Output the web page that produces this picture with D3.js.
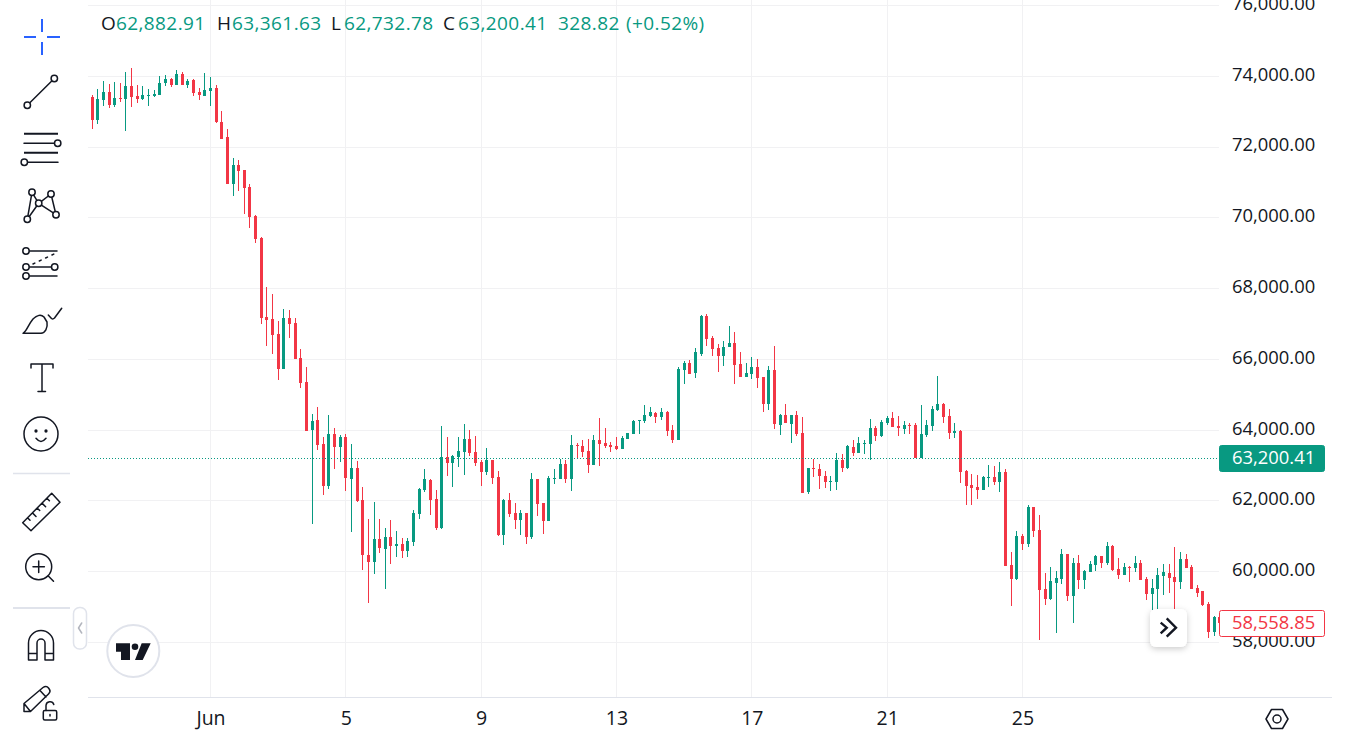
<!DOCTYPE html>
<html>
<head>
<meta charset="utf-8">
<script src="https://cdn.jsdelivr.net/npm/d3@7"></script>
<style>
  html, body { margin: 0; background: #fff; overflow: hidden; }
  svg { display: block; }
  text { font-family: "Open Sans", sans-serif; font-weight: 500; }
</style>
</head>
<body>
<svg id="chart" width="1346" height="748"></svg>
<script>
// 4-hour BTC/USD candles, 28 May 12:00 onward
const opens = [
73415,72765,73331,73557,73189,73387,73359,73726,73444,73359,
73444,73444,73472,73811,73924,73754,74065,73754,73896,73557,
73444,73585,73670,72709,72285,70957,71494,71352,70872,70052,
69431,67198,67141,66718,65728,67170,67028,66039,65361,64005,
64287,63609,62422,63892,63524,63807,62620,62931,62026,60472,
60274,60924,60642,60981,60726,60783,60585,60839,61631,62309,
62592,62055,61235,63242,63072,63242,63383,63750,63383,63100,
62817,63156,62676,61037,62026,61659,61461,61659,60980,62619,
61941,61432,62619,62619,63043,62619,63580,63552,63411,63015,
63722,63637,63580,63552,63467,63750,63891,64258,64258,64400,
64485,64372,64513,64004,63722,65700,65898,65615,66152,67226,
66604,66322,66095,66350,66463,65869,65502,65587,65785,65502,
64739,65700,64145,64428,64174,64428,63919,62252,62930,62902,
62704,62535,62535,63156,62930,63524,63354,63608,63609,64061,
63835,64202,64344,64117,64033,64146,64146,63213,63863,64117,
64570,64739,64400,63920,63976,62846,62450,62394,62309,62648,
62676,62535,62817,60189,59794,61009,60783,61828,61179,59511,
59229,59681,59794,60500,59313,60246,59766,59992,60189,60444,
60246,60726,60076,59907,60142,60105,60246,59794,59370,59511,
59879,59963,59850,59709,60359,60133,59540,59455,59087,58296,
58720];
const highs = [
73472,73641,73868,73783,73839,73811,74122,74235,73754,73726,
73641,73613,74009,74037,73952,74178,74122,73924,73924,73670,
74094,73981,73754,73020,72511,71691,71635,71352,70957,70081,
69459,68046,67848,67085,67424,67396,67170,66294,65785,64457,
64655,63807,64428,64061,63863,63892,63609,63129,62394,61489,
61970,61489,61235,61461,61150,60953,60953,61744,62365,62902,
62620,62309,64118,63807,63298,63807,64174,64005,63835,63157,
63495,63156,62846,62054,62224,61941,61743,61659,62789,62619,
61941,62704,62902,63185,63156,63863,63637,63722,63750,63863,
64343,64061,63665,63806,63835,63919,64287,64287,64711,64654,
64513,64626,64541,64145,65785,65954,65982,66322,67254,67282,
66661,66435,66519,66943,66774,66208,65898,66067,66011,65502,
65813,66378,64456,64739,64428,64541,64372,62930,63185,63043,
62846,62704,63354,63326,63580,63722,63806,63722,64315,64117,
64287,64400,64513,64400,64259,64202,64202,64711,64287,64683,
65530,64767,64598,64202,64004,62874,62761,62733,62704,63015,
62987,63100,62902,60557,61150,61065,61885,61828,61602,59963,
60133,60020,60642,60500,60387,60472,60048,60302,60472,60444,
60839,60755,60387,60246,60161,60453,60331,59850,59794,60105,
60218,60218,60698,60557,60500,60189,59624,59455,59144,58748,
58748];
const lows = [
72511,72652,73161,73105,73133,73274,72455,73133,73246,73331,
73161,73415,73472,73726,73698,73754,73754,73670,73444,73331,
73444,73161,72681,72228,70957,70618,70759,70109,69713,69289,
67000,66378,66152,65418,65728,66604,66011,65192,63976,61348,
63439,62168,62337,62902,63100,62281,61122,61970,60048,59116,
59935,60529,59511,60218,60416,60387,60416,60726,61489,62252,
61602,61179,61207,62705,62394,62959,62733,63270,62987,62422,
62732,62478,61009,60754,61546,61206,61037,60783,60924,61574,
61065,61432,62478,62619,62506,62280,63185,63241,62789,63015,
62987,63495,63382,63439,63467,63750,63891,63891,64202,64372,
64202,64287,63835,63637,63722,65304,65587,65474,66095,66378,
66095,65643,65813,66350,65304,65502,65502,65445,65191,64513,
64569,64032,63863,64202,63637,63835,62224,62196,62676,62337,
62365,62280,62309,62817,62902,63269,63354,63326,63157,63693,
63807,64146,64089,63835,63891,63891,63213,63213,63807,63976,
64541,64202,63750,63778,62507,61885,61885,62054,62309,62394,
62450,62252,60161,59031,59765,60613,60698,60981,58070,59059,
59200,58268,59653,59172,58550,59511,59511,59992,60020,60105,
60189,60020,59794,59907,59709,59992,59766,59200,58918,58946,
59342,59389,58918,59511,60105,59511,59285,59031,58127,58183,
58500];
const closes = [
72765,73359,73557,73189,73387,73359,73726,73415,73359,73472,
73472,73500,73811,73924,73754,74065,73754,73868,73528,73472,
73613,73670,72709,72228,70957,71494,71324,70844,70024,69402,
67170,67113,66689,65728,67170,67000,66011,65333,63976,64259,
63581,62422,63892,63524,63807,62648,62931,61998,60472,60274,
60924,60670,60981,60726,60783,60585,60868,61659,62337,62620,
62026,61235,63242,63072,63270,63411,63750,63355,63072,62818,
63156,62648,61037,62026,61630,61461,61659,60980,62619,61913,
61432,62648,62648,63043,62619,63580,63552,63382,63015,63722,
63608,63552,63524,63467,63778,63919,64258,64287,64428,64513,
64372,64513,63976,63722,65728,65898,65587,66208,67226,66576,
66293,66095,66350,66463,65841,65502,65615,65785,65474,64739,
65700,64174,64428,64202,64428,63891,62224,62930,62902,62704,
62535,62563,63156,62930,63552,63354,63637,63637,64061,63835,
64230,64344,64089,64061,64146,64117,63213,63891,64146,64598,
64739,64372,63920,63976,62817,62422,62365,62309,62676,62676,
62535,62817,60161,59794,61009,60783,61828,61150,59483,59229,
59737,59822,60500,59313,60246,59766,60020,60218,60444,60246,
60726,60048,59907,60133,60114,60246,59766,59370,59540,59907,
59992,59822,59709,60359,60105,59511,59398,59059,58296,58720,
58558.85];

const priceTicks = [76000,74000,72000,70000,68000,66000,64000,62000,60000,58000];
const dayTicks = ["2024-06-01","2024-06-05","2024-06-09","2024-06-13","2024-06-17","2024-06-21","2024-06-25"];
const legendOpen = 62882.91, legendHigh = 63361.63, legendLow = 62732.78, legendClose = 63200.41;
const legendChange = 328.82, legendPercent = 0.52;
const lastPrice = 58558.85;

const UP = "#089981", DOWN = "#F23645", INK = "#131722", RULE = "#e0e3eb", GRID = "#f1f1f3";
const paneLeft = 88, paneRight = 1219, paneBottom = 697;

const firstBar = Date.UTC(2024, 4, 28, 12);
const barTime = i => new Date(firstBar + i * 4 * 3600 * 1000);
const parseDay = d3.utcParse("%Y-%m-%d");

const x = d3.scaleUtc()
  .domain([parseDay(dayTicks[0]), parseDay(dayTicks[dayTicks.length - 1])])
  .range([210.5, 1022.5]);
const y = d3.scaleLinear().domain([58000, 74000]).range([642.5, 76.3]);
const crisp = v => Math.floor(v) + 0.5;

const svg = d3.select("#chart");

// Grid
const grid = svg.append("g").attr("stroke", GRID).attr("stroke-width", 1);
grid.selectAll(".h").data(priceTicks).join("line")
  .attr("x1", paneLeft).attr("x2", paneRight)
  .attr("y1", d => crisp(y(d))).attr("y2", d => crisp(y(d)));
grid.selectAll(".v").data(dayTicks).join("line")
  .attr("x1", d => crisp(x(parseDay(d)))).attr("x2", d => crisp(x(parseDay(d))))
  .attr("y1", 0).attr("y2", paneBottom);

// Candles
const bars = svg.append("g").selectAll("g").data(opens).join("g")
  .attr("fill", (d, i) => closes[i] >= d ? UP : DOWN)
  .attr("stroke", (d, i) => closes[i] >= d ? UP : DOWN);
bars.append("line")
  .attr("x1", (d, i) => crisp(x(barTime(i)))).attr("x2", (d, i) => crisp(x(barTime(i))))
  .attr("y1", (d, i) => Math.round(y(highs[i]))).attr("y2", (d, i) => Math.round(y(lows[i])))
  .attr("stroke-width", 1);
bars.append("rect")
  .attr("stroke", "none")
  .attr("x", (d, i) => Math.floor(x(barTime(i))) - 1)
  .attr("width", 3)
  .attr("y", (d, i) => Math.round(y(Math.max(d, closes[i]))))
  .attr("height", (d, i) => Math.max(1, Math.round(y(Math.min(d, closes[i]))) - Math.round(y(Math.max(d, closes[i])))));

// Current price line
svg.append("line")
  .attr("x1", paneLeft).attr("x2", paneRight)
  .attr("y1", crisp(y(legendClose))).attr("y2", crisp(y(legendClose)))
  .attr("stroke", UP).attr("stroke-dasharray", "1 2");

// Frame of the time axis
svg.append("line").attr("x1", paneLeft).attr("x2", 1332)
  .attr("y1", paneBottom + .5).attr("y2", paneBottom + .5).attr("stroke", RULE);

// Price axis
const priceFormat = d3.format(",.2f");
const priceAxis = svg.append("g").attr("transform", "translate(1232,-2)")
  .call(d3.axisRight(y).tickValues(priceTicks).tickSize(0).tickPadding(0).tickFormat(priceFormat));
priceAxis.select(".domain").remove();
priceAxis.selectAll("text").attr("fill", INK).attr("font-size", 18.4)
  .style("font-family", '"Open Sans", sans-serif').style("font-weight", 500);

// Time axis
const dayFormat = d => d.getUTCDate() === 1 ? "Jun" : String(d.getUTCDate());
const timeAxis = svg.append("g").attr("transform", "translate(0,711)")
  .call(d3.axisBottom(x).tickValues(dayTicks.map(parseDay)).tickSize(0).tickPadding(0).tickFormat(dayFormat));
timeAxis.select(".domain").remove();
timeAxis.selectAll("text").attr("fill", INK).attr("font-size", 19.5)
  .style("font-family", '"Open Sans", sans-serif').style("font-weight", 500);

// Price badges
function badge(value, top, bottom, fill, stroke, color) {
  svg.append("rect").attr("x", 1219.5).attr("y", top + .5).attr("width", 105).attr("height", bottom - top)
    .attr("rx", 2).attr("fill", fill).attr("stroke", stroke);
  svg.append("text").attr("x", 1232).attr("y", (top + bottom) / 2).attr("dy", ".35em")
    .attr("font-size", 18.4).attr("fill", color).text(priceFormat(value));
}
badge(legendClose, 445, 471, UP, UP, "#fff");
badge(lastPrice, 610, 636, "#fff", DOWN, DOWN);

// OHLC legend
const legendParts = [
  ["O", 101, INK], [priceFormat(legendOpen), 116, UP],
  ["H", 217, INK], [priceFormat(legendHigh), 232, UP],
  ["L", 331, INK], [priceFormat(legendLow), 344, UP],
  ["C", 443, INK], [priceFormat(legendClose), 458, UP],
  [d3.format(".2f")(legendChange), 558, UP],
  [`(+${d3.format(".2f")(legendPercent)}%)`, 626, UP]
];
svg.append("g").selectAll("text").data(legendParts).join("text")
  .attr("x", d => d[1]).attr("y", 30).attr("font-size", 19)
  .attr("letter-spacing", .4)
  .attr("fill", d => d[2]).text(d => d[0]);

// Drawing toolbar
const tools = svg.append("g").attr("fill", "none").attr("stroke", INK).attr("stroke-width", 1.5)
  .attr("stroke-linecap", "round").attr("stroke-linejoin", "round");
const path = (d, extra = {}) => {
  const p = tools.append("path").attr("d", d);
  Object.entries(extra).forEach(([k, v]) => p.attr(k, v));
  return p;
};
const dot = (cx, cy, r = 3.2) => tools.append("circle").attr("cx", cx).attr("cy", cy).attr("r", r).attr("fill", "#fff");

path("M24 37H36M47 37H60M42 19V32M42 42V55", { stroke: "#2962ff", "stroke-width": 2, "stroke-linecap": "butt" });

path("M27.3 105.3L54.3 78.5"); dot(54.3, 78.5); dot(27.3, 105.3);

path("M24 133.7H58M24 152.7H58", { "stroke-width": 2, "stroke-linecap": "butt" });
path("M24 143.3H54M28 162.3H58"); dot(57.7, 143.3); dot(24.3, 162.3);

path("M27.3 219.3L32 192.3L38.7 203.3L27.3 219.3M38.7 203.3L51 194L56 214.7L38.7 203.3");
dot(32, 192.3); dot(51, 194); dot(38.7, 203.3); dot(27.3, 219.3); dot(56, 214.7);

path("M29 251H57M29 267H52M29 276H57");
path("M33 264L54 254", { "stroke-dasharray": "2 5" });
dot(26, 251); dot(26, 267); dot(54.7, 267); dot(26, 276);

path("M23 333.3C27 331 28 325 33 319C37 315 41 314 44 317L47 322C48 328 45 333 41 333.3Z");
path("M48.3 315L51.5 318.5C52.5 319.2 53.5 319 54.5 318L61.7 308.3");

path("M31 368V364H53V368M42 364V391.5M38 391.5H45.5");

tools.append("circle").attr("cx", 41).attr("cy", 434).attr("r", 17);
tools.append("circle").attr("cx", 36).attr("cy", 431).attr("r", .9).attr("fill", INK);
tools.append("circle").attr("cx", 46).attr("cy", 431).attr("r", .9).attr("fill", INK);
path("M36 438.3Q41 444.5 46 438.3");

path("M13 473.5H70", { stroke: RULE, "stroke-linecap": "butt" });

path("M22.7 522.7L51.7 493.3L60 502.3L31 530.7ZM27.5 517.8L30 520.3M32.4 512.9L36 516.5M37.2 508L39.7 510.5M42 503.1L45.6 506.7M46.9 498.2L49.4 500.7");

tools.append("circle").attr("cx", 38.7).attr("cy", 566.7).attr("r", 13);
path("M33 566.7H44.4M38.7 561V572.4M48.3 576L53.5 581.3");

path("M13 608H70", { stroke: RULE, "stroke-width": 2, "stroke-linecap": "butt" });

tools.append("rect").attr("x", 73.5).attr("y", 607.5).attr("width", 13).attr("height", 41.5).attr("rx", 6).attr("stroke", RULE);
path("M81.7 623L78.5 628L81.7 633", { stroke: "#b2b5be" });

path("M28.5 660V643A12.5 12.5 0 0 1 53.5 643V660H45V643A4 4 0 0 0 37 643V660ZM28.5 653.5H37M45 653.5H53.5");

path("M24 711.5V703.5L43 687.5C45 686 47 686 48.5 688L49.5 689.5C50.5 691 50 692.5 48.5 694L30.5 711.5ZM24 703.5L30.5 711.5M40 690.5L46 697");
tools.append("rect").attr("x", 43.3).attr("y", 710.5).attr("width", 13.4).attr("height", 9.5).attr("rx", 1.5);
path("M46 710.5V705.5A4 4 0 0 1 53.8 704.5M50 714.5V716");

// Logo badge
svg.append("circle").attr("cx", 133.3).attr("cy", 651).attr("r", 26).attr("fill", "#fff").attr("stroke", RULE).attr("stroke-width", 2);
svg.append("path").attr("fill", INK)
  .attr("d", "M116 643.3H130V660H121V651.7H116ZM141.7 643.3H150.7L142.7 660H135Z");
svg.append("circle").attr("cx", 135).attr("cy", 646.8).attr("r", 3.3).attr("fill", INK);

// Scroll-to-latest button
const soft = svg.append("defs").append("filter").attr("id", "soft").attr("x", "-40%").attr("y", "-40%").attr("width", "180%").attr("height", "180%");
soft.append("feDropShadow").attr("dx", 0).attr("dy", 2).attr("stdDeviation", 3).attr("flood-color", "#000").attr("flood-opacity", .2);
svg.append("rect").attr("x", 1150).attr("y", 609).attr("width", 37).attr("height", 38).attr("rx", 6).attr("fill", "#fff").attr("filter", "url(#soft)");
svg.append("path").attr("fill", "none").attr("stroke", INK).attr("stroke-width", 2.4)
  .attr("d", "M1160.7 622.7L1166.7 627.7L1160.7 633.3M1166.7 618.3L1176 627.7L1166.7 636.7");

// Settings hexagon
svg.append("path").attr("fill", "none").attr("stroke", INK).attr("stroke-width", 1.5).attr("stroke-linejoin", "round")
  .attr("d", "M1266 719L1271.5 709.5H1282.5L1288 719L1282.5 728.5H1271.5Z");
svg.append("circle").attr("cx", 1277).attr("cy", 719).attr("r", 4).attr("fill", "none").attr("stroke", INK).attr("stroke-width", 1.5);
</script>
</body>
</html>
